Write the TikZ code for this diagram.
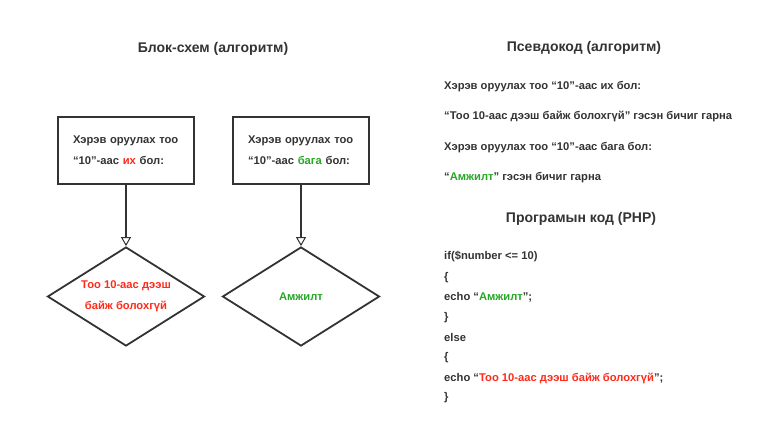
\documentclass[tikz,border=0pt]{standalone}
\usepackage{fontspec}
\setmainfont{Liberation Sans}
\usetikzlibrary{shapes.geometric,arrows.meta}
\definecolor{ink}{HTML}{333333}
\definecolor{rd}{HTML}{FF2A1A}
\definecolor{gr}{HTML}{26A826}
\tikzset{
  title/.style={font=\fontsize{14}{16}\selectfont\bfseries, text=ink, anchor=base},
  txt/.style={font=\fontsize{11.2}{13}\selectfont\bfseries, text=ink, anchor=base west, inner sep=0},
  box/.style={draw=ink, line width=1.8pt, rectangle, minimum width=136pt, minimum height=67pt,
    text width=106pt, align=left, inner sep=0, font=\fontsize{11.2}{21}\selectfont\bfseries, text=ink},
  dia/.style={draw=ink, line width=1.8pt, diamond, aspect=1.586, minimum width=157pt,
    minimum height=99pt, inner sep=0, align=center, font=\fontsize{11.2}{21}\selectfont\bfseries},
  link/.style={draw=ink, line width=1.8pt, -{Triangle[open, width=10pt, length=9pt, line width=1pt]}}
}
\begin{document}
\begin{tikzpicture}[x=1pt, y=-1pt]
\useasboundingbox[fill=white] (0,0) rectangle (768,432);
% titles
\node[title] (t1) at (213,52) {Блок-схем (алгоритм)};
\node[title] (t2) at (584,51) {Псевдокод (алгоритм)};
\node[title] (t3) at (581,222) {Програмын код (PHP)};
% flowchart
\node[box] (b1) at (126,150.5) {Хэрэв оруулах тоо\\“10”-аас \textcolor{rd}{их} бол:};
\node[box] (b2) at (301,150.5) {Хэрэв оруулах тоо\\“10”-аас \textcolor{gr}{бага} бол:};
\node[dia, text=rd] (d1) at (126,296.5) {Тоо 10-аас дээш\\байж болохгүй};
\node[dia, text=gr] (d2) at (301,296.5) {Амжилт};
\draw[link] (b1.south) -- (d1.north);
\draw[link] (b2.south) -- (d2.north);
% pseudocode
\node[txt] (p1) at (444,89) {Хэрэв оруулах тоо “10”-аас их бол:};
\node[txt] (p2) at (444,119) {“Тоо 10-аас дээш байж болохгүй” гэсэн бичиг гарна};
\node[txt] (p3) at (444,150) {Хэрэв оруулах тоо “10”-аас бага бол:};
\node[txt] (p4) at (444,180) {“\textcolor{gr}{Амжилт}” гэсэн бичиг гарна};
% code
\node[txt] (c1) at (444,259) {if(\$number <= 10)};
\node[txt] (c2) at (444,280) {\{};
\node[txt] (c3) at (444,300) {echo “\textcolor{gr}{Амжилт}”;};
\node[txt] (c4) at (444,320) {\}};
\node[txt] (c5) at (444,341) {else};
\node[txt] (c6) at (444,360) {\{};
\node[txt] (c7) at (444,381) {echo “\textcolor{rd}{Тоо 10-аас дээш байж болохгүй}”;};
\node[txt] (c8) at (444,400) {\}};
\end{tikzpicture}
\end{document}
